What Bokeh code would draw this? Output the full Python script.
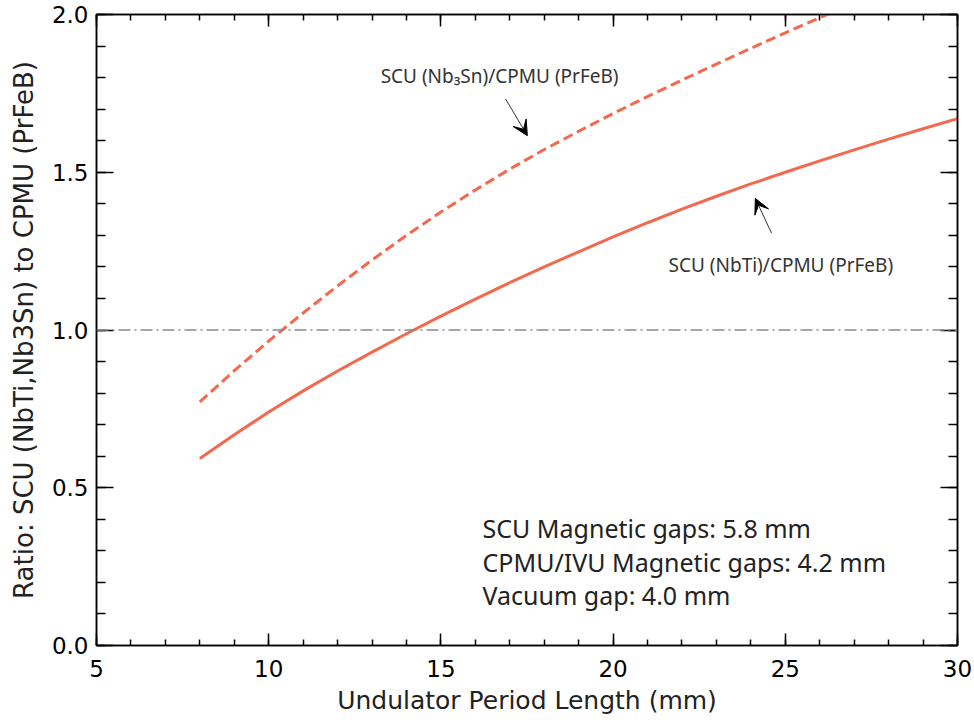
from bokeh.plotting import figure
from bokeh.models import (Range1d, LinearAxis, SingleIntervalTicker, NumeralTickFormatter,
                          CustomJSTickFormatter, Span, Arrow, VeeHead, Label, ColumnDataSource)
from bokeh.embed import file_html
from bokeh.resources import INLINE

# ---- data ----
period_nbti = [8, 9, 10, 11, 12, 13, 14, 15, 16, 17, 18, 19, 20, 21, 22, 23, 24, 25, 26, 27, 28, 29, 30]
ratio_nbti = [0.593, 0.668, 0.740, 0.807, 0.870, 0.930, 0.988, 1.044, 1.098, 1.150, 1.200, 1.248,
              1.295, 1.340, 1.383, 1.424, 1.463, 1.500, 1.536, 1.571, 1.605, 1.638, 1.670]
period_nb3sn = [8, 9, 10, 11, 12, 13, 14, 15, 16, 17, 18, 19, 20, 21, 22, 23, 24, 25, 26, 27]
ratio_nb3sn = [0.772, 0.871, 0.965, 1.054, 1.140, 1.222, 1.300, 1.374, 1.444, 1.510, 1.572, 1.630,
               1.686, 1.740, 1.792, 1.843, 1.893, 1.942, 1.990, 2.037]
unity_level = 1.0
x_limits = (5, 30)
y_limits = (0.0, 2.0)

label_nb3sn = "SCU (Nb\u2083Sn)/CPMU (PrFeB)"
label_nbti = "SCU (NbTi)/CPMU (PrFeB)"
info_lines = ["SCU Magnetic gaps: 5.8 mm",
              "CPMU/IVU Magnetic gaps: 4.2 mm",
              "Vacuum gap: 4.0 mm"]
x_title = "Undulator Period Length (mm)"
y_title = "Ratio: SCU (NbTi,Nb3Sn) to CPMU (PrFeB)"

CURVE = "#F4694E"
AXFONT = "DejaVu Sans"
ANFONT = "Noto Sans"
TICKSIZE = "23px"

p = figure(width=972, height=718, output_backend="svg", toolbar_location=None,
           x_range=Range1d(*x_limits), y_range=Range1d(*y_limits),
           min_border_left=96, min_border_right=15, min_border_top=14, min_border_bottom=73)
p.grid.visible = False
p.outline_line_color = "black"
p.outline_line_width = 1.5

# main axes
xa = p.below[0]
ya = p.left[0]
xa.ticker = SingleIntervalTicker(interval=5, num_minor_ticks=5)
ya.ticker = SingleIntervalTicker(interval=0.5, num_minor_ticks=5)
xa.formatter = NumeralTickFormatter(format="0")
ya.formatter = NumeralTickFormatter(format="0.0")
for ax, maj, mnr in ((xa, 12, 6), (ya, 17, 9)):
    ax.major_tick_in = maj
    ax.minor_tick_in = mnr
    ax.major_tick_out = 0
    ax.minor_tick_out = 0
    ax.axis_line_width = 1.5
    ax.major_tick_line_width = 1.5
    ax.minor_tick_line_width = 1.5
    ax.axis_line_color = "black"
    ax.major_label_text_font = AXFONT
    ax.major_label_text_font_size = TICKSIZE
    ax.major_label_text_color = "black"
    ax.axis_label_text_font = AXFONT
    ax.axis_label_text_font_style = "normal"
    ax.axis_label_text_color = "#222222"
xa.axis_label = x_title
ya.axis_label = y_title
xa.axis_label_text_font_size = "25px"
ya.axis_label_text_font_size = "26px"
xa.major_label_standoff = 14
ya.major_label_standoff = 8
xa.axis_label_standoff = 6
ya.axis_label_standoff = 10

# mirror axes (ticks only)
for loc, interval, maj, mnr in (("above", 5, 12, 6), ("right", 0.5, 17, 9)):
    ax = LinearAxis(ticker=SingleIntervalTicker(interval=interval, num_minor_ticks=5),
                    formatter=CustomJSTickFormatter(code="return ''"))
    ax.major_tick_in = maj
    ax.minor_tick_in = mnr
    ax.major_tick_out = 0
    ax.minor_tick_out = 0
    ax.major_label_standoff = 0
    ax.axis_line_width = 1.5
    ax.major_tick_line_width = 1.5
    ax.minor_tick_line_width = 1.5
    ax.major_label_text_font_size = "0px"
    p.add_layout(ax, loc)

# unity reference line
p.add_layout(Span(location=unity_level, dimension="width", line_color="#8a8a8a",
                  line_width=1.3, line_dash="12 4 2 4"))

# curves
src_nbti = ColumnDataSource(dict(x=period_nbti, y=ratio_nbti))
src_nb3sn = ColumnDataSource(dict(x=period_nb3sn, y=ratio_nb3sn))
p.line("x", "y", source=src_nbti, line_color=CURVE, line_width=3)
p.line("x", "y", source=src_nb3sn, line_color=CURVE, line_width=3, line_dash="10 5")

# annotations
p.add_layout(Label(x=13.25, y=1.805, text=label_nb3sn, text_font=ANFONT, text_font_size="19px",
                   text_color="#333333", text_baseline="middle"))
p.add_layout(Label(x=21.61, y=1.206, text=label_nbti, text_font=ANFONT, text_font_size="19px",
                   text_color="#333333", text_baseline="middle"))
p.add_layout(Arrow(x_start=16.88, y_start=1.732, x_end=17.51, y_end=1.616, line_width=1,
                   line_color="#333333",
                   end=VeeHead(size=15, fill_color="black", line_color="black", line_width=1)))
p.add_layout(Arrow(x_start=24.60, y_start=1.307, x_end=24.13, y_end=1.417, line_width=1,
                   line_color="#333333",
                   end=VeeHead(size=15, fill_color="black", line_color="black", line_width=1)))

for txt, yv in zip(info_lines, [0.372, 0.265, 0.161]):
    p.add_layout(Label(x=16.21, y=yv, text=txt, text_font=ANFONT, text_font_size="25px",
                       text_color="#222222", text_baseline="middle"))

open("out.html", "w").write(file_html(p, INLINE))
